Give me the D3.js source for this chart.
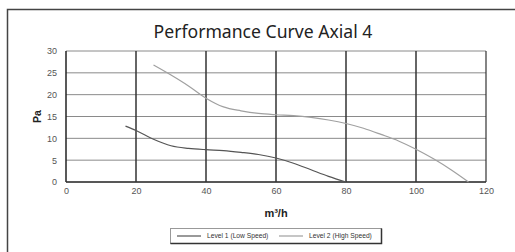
<!DOCTYPE html>
<html>
<head>
<meta charset="utf-8">
<script src="https://cdn.jsdelivr.net/npm/d3@7"></script>
<style>
  body { margin: 0; background: #fff; }
  svg { display: block; }
  text { font-family: "Liberation Sans", Arial, sans-serif; }
</style>
</head>
<body>
<svg class="chart" width="515" height="252"></svg>
<script>
// data
var lowFlow  = [17, 20, 25, 30, 35, 40, 45, 50, 55, 60, 65, 70, 75, 80];
var lowPa    = [12.8, 11.8, 9.8, 8.3, 7.7, 7.4, 7.2, 6.8, 6.3, 5.5, 4.3, 2.8, 1.3, 0];
var highFlow = [25, 30, 35, 40, 45, 50, 55, 60, 65, 70, 75, 80, 85, 90, 95, 100, 105, 110, 115];
var highPa   = [26.8, 24.5, 22, 19.2, 17.2, 16.3, 15.7, 15.4, 15.2, 14.8, 14.2, 13.4, 12.3, 10.9, 9.4, 7.5, 5.3, 2.8, 0];
var xTicks = [0, 20, 40, 60, 80, 100, 120];
var yTicks = [0, 5, 10, 15, 20, 25, 30];
var seriesNames = ["Level 1 (Low Speed)", "Level 2 (High Speed)"];

var margin = {top: 51, left: 66},
    width = 420,
    height = 131;

var svg = d3.select(".chart");

// outer frame
svg.append("rect")
    .attr("x", 7.5).attr("y", 9.5)
    .attr("width", 530).attr("height", 260)
    .attr("fill", "none")
    .attr("stroke", "#444")
    .attr("stroke-width", 1.5);

svg.append("text")
    .attr("x", 263).attr("y", 38)
    .attr("text-anchor", "middle")
    .style("font-family", "'Noto Sans', sans-serif")
    .style("font-size", "17.6px")
    .attr("fill", "#222")
    .text("Performance Curve Axial 4");

var x = d3.scaleLinear().domain([0, 120]).range([0, width]);
var y = d3.scaleLinear().domain([0, 30]).range([height, 0]);

var g = svg.append("g")
    .attr("transform", "translate(" + margin.left + "," + margin.top + ")");

// horizontal grid
g.selectAll(".hgrid")
    .data(yTicks)
  .enter().append("line")
    .attr("x1", 0).attr("x2", width)
    .attr("y1", function(d) { return y(d); })
    .attr("y2", function(d) { return y(d); })
    .attr("stroke", "#8a8a8a")
    .attr("stroke-width", 1);

// vertical grid
g.selectAll(".vgrid")
    .data(xTicks)
  .enter().append("line")
    .attr("x1", function(d) { return x(d); })
    .attr("x2", function(d) { return x(d); })
    .attr("y1", 0).attr("y2", height)
    .attr("stroke", function(d) { return d === 0 ? "#222" : "#333"; })
    .attr("stroke-width", function(d) { return d === 120 ? 1.2 : 1.5; });

// bottom axis line
g.append("line")
    .attr("x1", 0).attr("x2", width)
    .attr("y1", height).attr("y2", height)
    .attr("stroke", "#333").attr("stroke-width", 1.5);

// axes (labels only)
var xAxis = g.append("g")
    .attr("transform", "translate(0," + height + ")")
    .call(d3.axisBottom(x).tickValues(xTicks).tickSize(0).tickPadding(6));
var yAxis = g.append("g")
    .call(d3.axisLeft(y).tickValues(yTicks).tickSize(0).tickPadding(9));
[xAxis, yAxis].forEach(function(a) {
  a.select(".domain").remove();
  a.selectAll("text")
      .style("font-family", "'Liberation Sans', Arial, sans-serif")
      .style("font-size", "9px")
      .attr("fill", "#555");
});

// axis titles
g.append("text")
    .attr("transform", "translate(-29," + (height / 2) + ") rotate(-90)")
    .attr("text-anchor", "middle")
    .attr("dy", "0.35em")
    .style("font-size", "10.5px")
    .style("font-weight", "bold")
    .attr("fill", "#222")
    .text("Pa");

g.append("text")
    .attr("x", width / 2).attr("y", height + 35)
    .attr("text-anchor", "middle")
    .style("font-size", "11px")
    .style("font-weight", "bold")
    .attr("fill", "#222")
    .text("m³/h");

// the curves
var line = d3.line()
    .x(function(d) { return x(d[0]); })
    .y(function(d) { return y(d[1]); })
    .curve(d3.curveMonotoneX);

var colors = ["#555", "#a0a0a0"];
var series = [d3.zip(lowFlow, lowPa), d3.zip(highFlow, highPa)];

g.selectAll(".curve")
    .data(series)
  .enter().append("path")
    .attr("fill", "none")
    .attr("stroke", function(d, i) { return colors[i]; })
    .attr("stroke-width", 1.2)
    .attr("d", line);

// legend
var legend = svg.append("g").attr("transform", "translate(170,228)");
legend.append("rect")
    .attr("x", 0.5).attr("y", 0.5)
    .attr("width", 211).attr("height", 15)
    .attr("fill", "#fff")
    .attr("stroke", "#999");
legend.append("path")
    .attr("d", "M211.5,0.5V15.5H0.5")
    .attr("fill", "none")
    .attr("stroke", "#333")
    .attr("stroke-width", 1.5);

var legendX = [7, 109];
seriesNames.forEach(function(name, i) {
  legend.append("line")
      .attr("x1", legendX[i]).attr("x2", legendX[i] + 24)
      .attr("y1", 8).attr("y2", 8)
      .attr("stroke", colors[i])
      .attr("stroke-width", 1.2);
  legend.append("text")
      .attr("x", legendX[i] + 30).attr("y", 8)
      .attr("dy", "0.35em")
      .style("font-size", "6.7px")
      .attr("fill", "#333")
      .text(name);
});
</script>
</body>
</html>
